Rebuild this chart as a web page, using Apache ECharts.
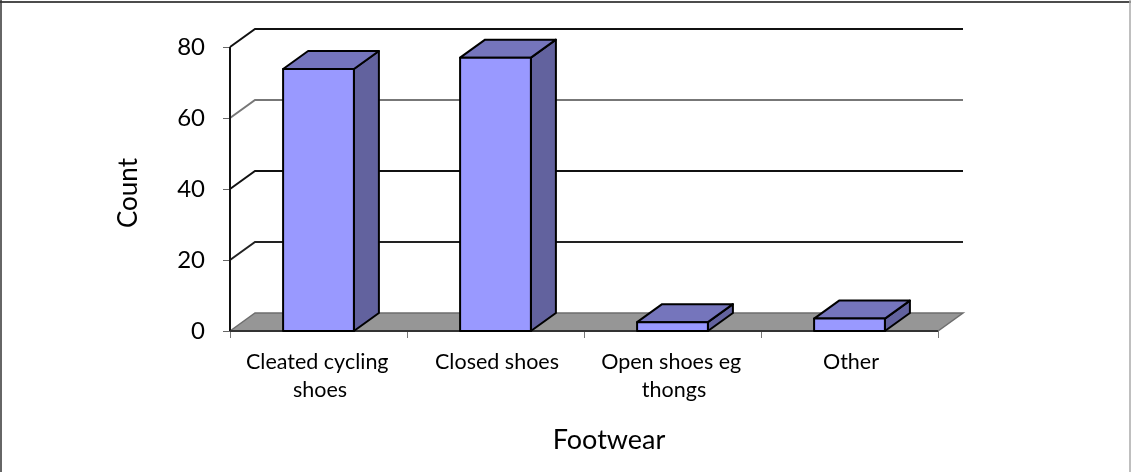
<!DOCTYPE html>
<html><head><meta charset="utf-8">
<style>html,body{margin:0;padding:0;background:#fff}#c{width:1131px;height:472px}</style>
<script src="https://cdn.jsdelivr.net/npm/echarts@6/dist/echarts.min.js"></script>
</head><body><div id="c"></div>
<script>
const categories = ['Cleated cycling shoes', 'Closed shoes', 'Open shoes eg thongs', 'Other'];
const counts = [73.8, 77, 2.5, 3.5];
const yTicks = [0, 20, 40, 60, 80];
const gridColors = ['#777777', '#222222', '#111111', '#777777', '#111111'];
const FONT = 'Lato, "Open Sans", sans-serif';
const DX = 25, DY = -18, BAR_FRAC = 0.4;

const chart = echarts.init(document.getElementById('c'), null, {renderer: 'canvas'});

function wallItem(params, api) {
  const v = api.value(0), cs = params.coordSys;
  const y = api.coord([0, v])[1], x0 = cs.x, x1 = cs.x + cs.width;
  const children = [];
  if (v === 0) {
    children.push({type: 'polygon', shape: {points: [[x0, y], [x0 + DX, y + DY], [x1 + DX, y + DY], [x1, y]]},
      style: {fill: '#969696', stroke: '#6e6e6e', lineWidth: 1.5}});
  } else {
    children.push({type: 'polyline', shape: {points: [[x0, y], [x0 + DX, y + DY], [x1 + DX, y + DY]]},
      style: {fill: 'none', stroke: gridColors[params.dataIndex], lineWidth: 2}});
  }
  return {type: 'group', children};
}

function barItem(params, api) {
  const p = api.coord([api.value(0), api.value(1)]);
  const base = api.coord([api.value(0), 0])[1];
  const w = api.size([1, 0])[0] * BAR_FRAC;
  const l = p[0] - w / 2, r = p[0] + w / 2, t = p[1];
  const edge = {stroke: '#000', lineWidth: 2, lineJoin: 'round'};
  return {type: 'group', children: [
    {type: 'polygon', shape: {points: [[r, t], [r + DX, t + DY], [r + DX, base + DY], [r, base]]},
      style: Object.assign({fill: '#62629e'}, edge)},
    {type: 'polygon', shape: {points: [[l, t], [l + DX, t + DY], [r + DX, t + DY], [r, t]]},
      style: Object.assign({fill: '#7575bc'}, edge)},
    {type: 'rect', shape: {x: l, y: t, width: w, height: base - t},
      style: Object.assign({fill: '#9999ff'}, edge)}
  ]};
}

chart.setOption({
  animation: false,
  backgroundColor: '#fff',
  grid: {left: 230, top: 47, width: 708, height: 284},
  xAxis: {
    type: 'category', data: categories,
    name: 'Footwear', nameLocation: 'middle', nameGap: 96,
    nameTextStyle: {fontFamily: FONT, fontSize: 27, color: '#000', padding: [0, 0, 0, 50]},
    axisLine: {show: false},
    axisTick: {show: true, alignWithLabel: false, length: 7, lineStyle: {color: '#777', width: 1}},
    axisLabel: {fontFamily: FONT, fontSize: 21.5, color: '#000', margin: 17, lineHeight: 28,
      width: 170, overflow: 'break', interval: 0, padding: [0, 0, 0, 3]}
  },
  yAxis: {
    type: 'value', min: 0, max: 80, interval: 20,
    name: 'Count', nameLocation: 'middle', nameGap: 88, nameRotate: 90,
    nameTextStyle: {fontFamily: FONT, fontSize: 26, color: '#000', padding: [0, 8, 0, 0]},
    axisLine: {show: false},
    axisTick: {show: true, length: 7, lineStyle: {color: '#666', width: 1}},
    axisLabel: {fontFamily: FONT, fontSize: 24, color: '#000', margin: 25, padding: [2, 0, 0, 0]},
    splitLine: {show: false}
  },
  series: [
    {type: 'custom', renderItem: wallItem, data: yTicks.map(v => [v]),
      encode: {y: 0}, silent: true, clip: false, z: 1},
    {type: 'custom', renderItem: barItem, data: counts.map((v, i) => [i, v]),
      encode: {x: 0, y: 1}, clip: false, z: 20}
  ],
  graphic: [
    {type: 'line', z: 10, shape: {x1: 230, y1: 47, x2: 230, y2: 331}, style: {stroke: '#111', lineWidth: 2}},
    {type: 'line', z: 10, shape: {x1: 230, y1: 331, x2: 938, y2: 331}, style: {stroke: '#333', lineWidth: 2}},
    {type: 'line', shape: {x1: 0, y1: 2, x2: 1131, y2: 2}, style: {stroke: '#111', lineWidth: 1.5}},
    {type: 'line', shape: {x1: 1, y1: 0, x2: 1, y2: 472}, style: {stroke: '#333', lineWidth: 1.5}},
    {type: 'line', shape: {x1: 1130, y1: 0, x2: 1130, y2: 472}, style: {stroke: '#aaa', lineWidth: 1.5}}
  ]
});
</script></body></html>
